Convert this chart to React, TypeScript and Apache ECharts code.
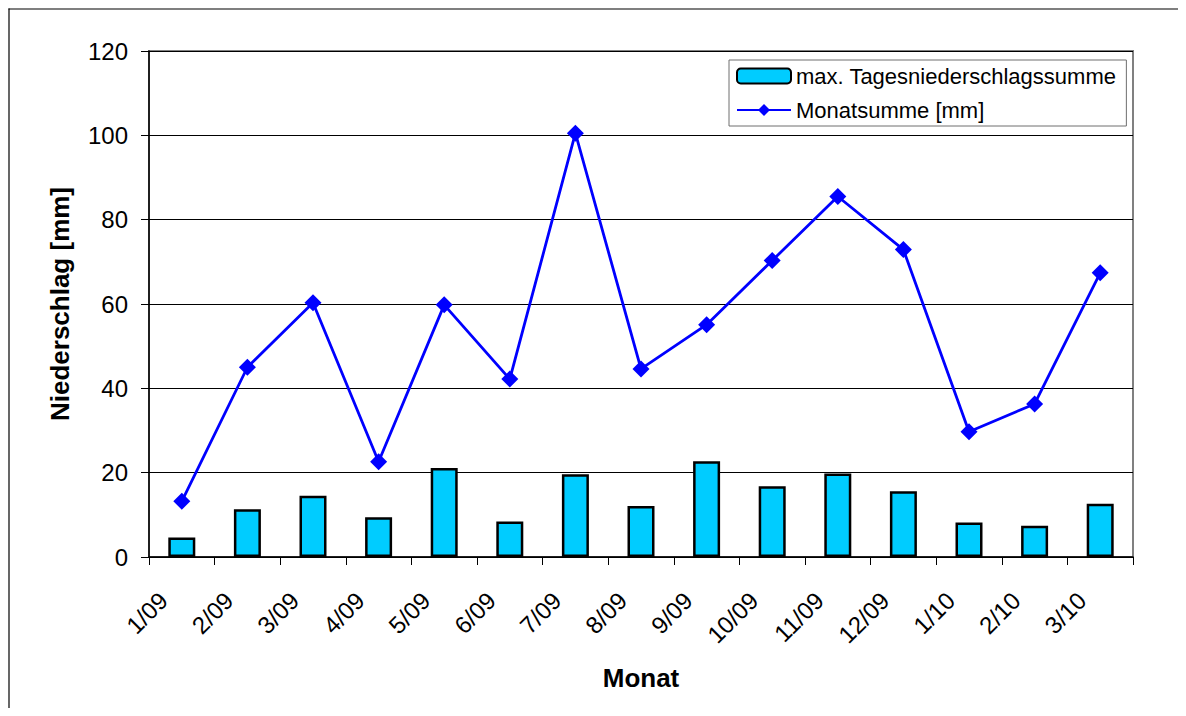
import React, { useEffect, useRef } from "react";
import * as echarts from "echarts";

const months = ["1/09", "2/09", "3/09", "4/09", "5/09", "6/09", "7/09", "8/09", "9/09", "10/09", "11/09", "12/09", "1/10", "2/10", "3/10"];
const maxDaily = [4.6, 11.3, 14.5, 9.4, 21.1, 8.4, 19.6, 12.1, 22.7, 16.8, 19.8, 15.6, 8.2, 7.4, 12.6];
const monthSum = [13.2, 45.0, 60.3, 22.6, 59.8, 42.2, 100.5, 44.6, 55.1, 70.3, 85.5, 72.9, 29.7, 36.3, 67.4];
const yTicks = { min: 0, max: 120, interval: 20 };

const FONT = "'Liberation Sans', Arial, sans-serif";

export default function App() {
  const ref = useRef<HTMLDivElement>(null);
  useEffect(() => {
    if (!ref.current) return;
    const chart = echarts.init(ref.current, undefined, { renderer: "svg" });
    chart.setOption({
      animation: false,
      backgroundColor: "#ffffff",
      textStyle: { fontFamily: FONT },
      graphic: [
        {
          type: "line",
          shape: { x1: 0.5, y1: 1, x2: 1178, y2: 1 },
          style: { stroke: "#000000", lineWidth: 1.2 },
          silent: true,
        },
        {
          type: "line",
          shape: { x1: 1, y1: 0.5, x2: 1, y2: 700 },
          style: { stroke: "#000000", lineWidth: 1.2 },
          silent: true,
        },
      ],
      grid: {
        left: 141,
        right: 53,
        top: 43,
        bottom: 151,
        show: true,
        borderColor: "#808080",
        borderWidth: 2,
      },
      legend: {
        orient: "vertical",
        left: 721,
        top: 52,
        padding: [5, 10, 5, 7],
        itemGap: 12,
        itemWidth: 54,
        itemHeight: 15,
        borderColor: "#6e6e6e",
        borderWidth: 1,
        backgroundColor: "#ffffff",
        textStyle: { fontFamily: FONT, fontSize: 22, color: "#000000" },
        data: ["max. Tagesniederschlagssumme", "Monatsumme [mm]"],
      },
      xAxis: {
        type: "category",
        data: months,
        boundaryGap: true,
        name: "Monat",
        nameLocation: "middle",
        nameGap: 108,
        nameTextStyle: { fontFamily: FONT, fontSize: 26, fontWeight: "bold", color: "#000000" },
        axisLine: { lineStyle: { color: "#000000", width: 1.5 } },
        axisTick: { show: true, length: 8, interval: 0, lineStyle: { color: "#000000" } },
        axisLabel: {
          interval: 0,
          rotate: 45,
          margin: 21,
          padding: [0, 26, 0, 0],
          fontFamily: FONT,
          fontSize: 24,
          color: "#000000",
        },
        splitLine: { show: false },
      },
      yAxis: {
        type: "value",
        min: yTicks.min,
        max: yTicks.max,
        interval: yTicks.interval,
        name: "Niederschlag [mm]",
        nameLocation: "middle",
        nameGap: 76,
        nameRotate: 90,
        nameTextStyle: { fontFamily: FONT, fontSize: 26, fontWeight: "bold", color: "#000000" },
        axisLine: { show: true, lineStyle: { color: "#000000", width: 1.5 } },
        axisTick: { show: true, length: 8, lineStyle: { color: "#000000" } },
        axisLabel: { margin: 21, fontFamily: FONT, fontSize: 24, color: "#000000" },
        splitLine: { show: true, lineStyle: { color: "#000000", width: 1 } },
      },
      series: [
        {
          name: "max. Tagesniederschlagssumme",
          type: "bar",
          data: maxDaily,
          barWidth: 27,
          itemStyle: { color: "#00CCFF", borderColor: "#000000", borderWidth: 2.5 },
          z: 2,
        },
        {
          name: "Monatsumme [mm]",
          type: "line",
          data: monthSum,
          symbol: "diamond",
          symbolSize: 17,
          lineStyle: { color: "#0000FF", width: 2.8 },
          itemStyle: { color: "#0000FF" },
          z: 3,
        },
      ],
    });
    return () => chart.dispose();
  }, []);
  return <div ref={ref} style={{ width: 1178, height: 700 }} />;
}
